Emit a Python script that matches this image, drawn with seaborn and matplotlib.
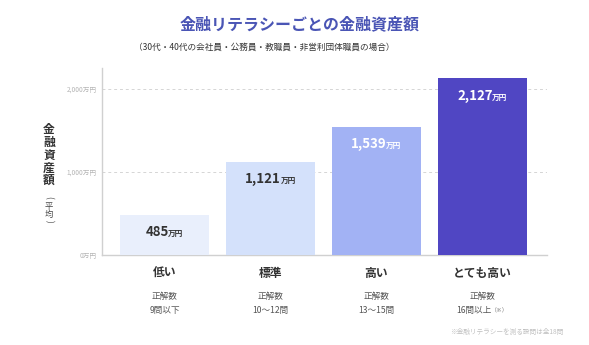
import matplotlib
matplotlib.use("Agg")
import matplotlib.pyplot as plt
import seaborn as sns
import pandas as pd
from matplotlib.offsetbox import TextArea, HPacker, AnnotationBbox
from matplotlib.transforms import blended_transform_factory

# ---- data ----
categories = ["低い", "標準", "高い", "とても高い"]
values = [485, 1121, 1539, 2127]
value_labels = ["485", "1,121", "1,539", "2,127"]
sub_line1 = ["正解数", "正解数", "正解数", "正解数"]
sub_line2 = ["9問以下", "10〜12問", "13〜15問", "16問以上"]
sub_note = ["", "", "", "（※）"]
ytick_values = [0, 1000, 2000]
ytick_labels = ["0万円", "1,000万円", "2,000万円"]
bar_colors = ["#e9effc", "#d4e1fb", "#a2b2f4", "#5046c3"]
label_colors = ["#333333", "#333333", "#ffffff", "#ffffff"]

title = "金融リテラシーごとの金融資産額"
subtitle = "（30代・40代の会社員・公務員・教職員・非営利団体職員の場合）"
footnote = "※金融リテラシーを測る設問は全18問"
ylabel_main = "金融資産額"
ylabel_sub = ["(", "平", "均", ")"]

sns.set_theme(style="white")
plt.rcParams["font.family"] = ["Noto Sans CJK JP", "DejaVu Sans"]

df = pd.DataFrame({"category": categories, "value": values})

fig = plt.figure(figsize=(5.89, 3.45), dpi=100)
ax = fig.add_axes([102/589, 1-255/345, (547-102)/589, (255-68)/345])

sns.barplot(data=df, x="category", y="value", hue="category",
            palette=bar_colors, width=0.84, legend=False, ax=ax,
            saturation=1, linewidth=0, zorder=3)

ax.set_xlim(-0.59, 3.61)
ax.set_ylim(0, 2250)
ax.set_yticks(ytick_values)
ax.set_yticklabels(ytick_labels, fontsize=4.8, color="#b5b5b5")
ax.tick_params(axis="y", length=0, pad=4)
ax.tick_params(axis="x", length=0)
ax.set_xticks(range(len(categories)))
ax.set_xticklabels([])
ax.set_xlabel("")
ax.set_ylabel("")

for y in ytick_values[1:]:
    ax.axhline(y, color="#d5d5d5", lw=0.7, ls=(0, (3, 3)), zorder=1)

for s in ["top", "right"]:
    ax.spines[s].set_visible(False)
ax.spines["left"].set_color("#d0d0d0")
ax.spines["left"].set_linewidth(1.0)
ax.spines["bottom"].set_color("#d0d0d0")
ax.spines["bottom"].set_linewidth(1.0)

# value labels
for i, (v, lab, c) in enumerate(zip(values, value_labels, label_colors)):
    t1 = TextArea(lab, textprops=dict(fontsize=9.5, fontweight="bold", color=c))
    t2 = TextArea("万円", textprops=dict(fontsize=5.5, fontweight="bold", color=c))
    box = HPacker(children=[t1, t2], align="baseline", pad=0, sep=-0.5)
    ab = AnnotationBbox(box, (i, v), xybox=(0, -12.5), boxcoords="offset points",
                        frameon=False, box_alignment=(0.5, 0.5), zorder=5)
    ax.add_artist(ab)

# category labels
trans = blended_transform_factory(ax.transData, fig.transFigure)
for i, cat in enumerate(categories):
    ax.text(i, 1-273/345, cat, transform=trans, ha="center", va="center",
            fontsize=8.5, fontweight="bold", color="#333333")
    ax.text(i, 1-296/345, sub_line1[i], transform=trans, ha="center", va="center",
            fontsize=6.2, color="#555555")
    if sub_note[i]:
        t1 = TextArea(sub_line2[i], textprops=dict(fontsize=6.2, color="#555555"))
        t2 = TextArea(sub_note[i], textprops=dict(fontsize=4.2, color="#777777"))
        box = HPacker(children=[t1, t2], align="baseline", pad=0, sep=0)
        ab = AnnotationBbox(box, (i, 1-310/345), xycoords=trans, frameon=False,
                            box_alignment=(0.5, 0.5))
        ax.add_artist(ab)
    else:
        ax.text(i, 1-310/345, sub_line2[i], transform=trans, ha="center", va="center",
                fontsize=6.2, color="#555555")

# y label stacked vertically
fig.text(49/589, 1-155/345, "\n".join(ylabel_main), ha="center", va="center",
         fontsize=8.5, fontweight="bold", color="#333333", linespacing=0.98)
sub_y = [197, 206, 214.5, 221]
for ch, yy in zip(ylabel_sub, sub_y):
    rot = -90 if ch in "()" else 0
    fig.text(49/589, 1-yy/345, ch, ha="center", va="center", rotation=rot,
             fontsize=6, color="#444444")

# titles
fig.text(300/589, 1-24/345, title, ha="center", va="center",
         fontsize=11.5, fontweight="bold", color="#4a55b5")
fig.text(264/589, 1-47/345, subtitle, ha="center", va="center",
         fontsize=6.2, color="#333333")
fig.text(563/589, 1-332/345, footnote, ha="right", va="center",
         fontsize=4.8, color="#c0c0c0")

fig.savefig("out.png", dpi=100, facecolor="white")
